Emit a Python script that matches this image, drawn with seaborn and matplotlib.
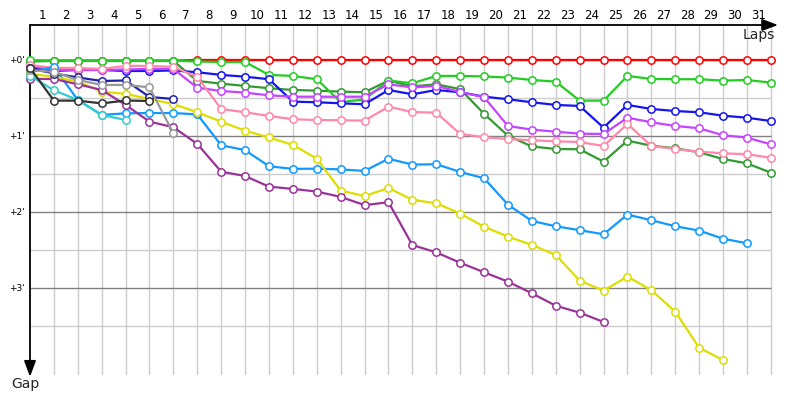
import matplotlib
matplotlib.use("Agg")
import matplotlib.pyplot as plt
import seaborn as sns
import pandas as pd

# ---- data (gap to leader in seconds, one value per lap starting at lap 0) ----
lap_labels = [str(i) for i in range(1, 32)]
gap_ticks = [0, 60, 120, 180]
gap_tick_labels = ["+0'", "+1'", "+2'", "+3'"]

red = [0.6, 0.6, 0.6, 0.6, 0.6, 0.6, 0.6, 0.0, 0.0, 0.0, 0.0, 0.0, 0.0, 0.0, 0.0, 0.0,
       0.0, 0.0, 0.0, 0.0, 0.0, 0.0, 0.0, 0.0, 0.0, 0.0, 0.0, 0.0, 0.0, 0.0, 0.0, 0.0]
lime = [0.4, 0.6, 0.6, 0.6, 0.6, 0.6, 0.6, 1.2, 1.6, 1.6, 11.8, 12.6, 15.2, 33.2, 31.2, 16.3,
        18.4, 12.6, 12.6, 13.0, 13.9, 15.8, 17.1, 32.1, 32.1, 12.6, 15.0, 15.2, 15.2, 16.3, 15.8, 17.9]
darkgreen = [1.2, 0.8, 0.8, 0.8, 0.8, 0.8, 0.8, 16.6, 18.7, 20.5, 22.3, 23.7, 24.2, 25.0, 25.5, 16.3,
             20.9, 19.2, 23.0, 42.5, 59.8, 68.3, 70.3, 70.5, 80.3, 63.7, 67.7, 69.7, 72.9, 78.2, 81.6, 89.0]
blue = [5.5, 8.7, 7.9, 7.9, 8.7, 8.7, 8.3, 9.7, 11.8, 13.2, 15.2, 32.9, 33.4, 34.2, 35.0, 23.7,
        27.1, 23.7, 25.5, 29.0, 31.0, 33.4, 35.5, 36.3, 53.4, 35.5, 38.7, 40.3, 41.3, 44.0, 45.6, 48.2]
violet = [4.7, 7.9, 7.9, 7.9, 7.5, 7.1, 7.1, 21.9, 24.5, 25.8, 27.9, 29.0, 29.0, 29.0, 29.0, 19.2,
          21.7, 20.5, 25.3, 29.4, 52.1, 55.0, 56.6, 58.2, 58.4, 45.6, 49.2, 52.1, 53.9, 59.4, 61.3, 66.6]
pink = [3.9, 6.3, 6.3, 7.1, 4.7, 4.7, 5.5, 13.4, 38.7, 41.3, 44.2, 46.8, 47.4, 47.6, 47.9, 36.9,
        41.1, 41.6, 58.4, 61.0, 62.4, 63.4, 64.2, 64.8, 67.9, 50.5, 67.9, 70.3, 72.4, 73.7, 74.4, 77.2]
skyblue = [9.5, 5.5, 31.6, 43.4, 42.1, 41.9, 41.9, 43.0, 67.3, 71.2, 83.9, 86.0, 85.8, 86.4, 87.6, 78.0,
           82.6, 82.3, 88.4, 93.4, 114.2, 127.1, 131.3, 134.4, 137.6, 122.1, 126.5, 131.3, 134.7, 141.1, 144.7]
yellow = [11.1, 13.2, 17.1, 25.0, 26.8, 30.8, 34.8, 41.3, 48.7, 55.8, 61.2, 67.1, 77.9, 103.1, 107.4, 101.1,
          110.4, 113.1, 121.3, 131.6, 139.5, 146.0, 153.9, 174.2, 182.1, 171.0, 181.8, 198.7, 227.1, 237.0]
purple = [15.0, 15.0, 19.2, 23.7, 35.5, 48.7, 53.1, 66.3, 88.2, 91.6, 100.0, 101.8, 103.9, 108.1, 114.6, 112.3,
          146.1, 151.9, 160.1, 167.6, 175.0, 184.2, 194.0, 199.5, 206.8]
navy = [6.6, 10.7, 13.8, 16.6, 16.2, 29.2, 30.8]
cyan = [12.4, 23.9, 31.6, 43.4, 47.4]
gray = [7.9, 9.5, 15.8, 19.7, 19.7, 21.6, 58.0]
black = [6.3, 32.1, 32.1, 34.3, 32.0, 32.4]

series = [
    ("#ff0000", red),
    ("#339933", darkgreen),
    ("#22cc22", lime),
    ("#1414ee", blue),
    ("#c444ff", violet),
    ("#ff88aa", pink),
    ("#1199ff", skyblue),
    ("#dddd00", yellow),
    ("#993399", purple),
    ("#2020a8", navy),
    ("#33cccc", cyan),
    ("#999999", gray),
    ("#333333", black),
]

sns.set_theme(style="white")
plt.rcParams['font.family'] = ['DejaVu Sans']

fig = plt.figure(figsize=(8, 4), dpi=100)
ax = fig.add_axes([30 / 800, 25 / 400, 748 / 800, 350 / 400])

for i, (color, vals) in enumerate(series):
    df = pd.DataFrame({"lap": list(range(len(vals))), "gap": vals})
    sns.lineplot(data=df, x="lap", y="gap", ax=ax, color=color, linewidth=1.6,
                 marker="o", markersize=5.3, markerfacecolor="white",
                 markeredgecolor=color, markeredgewidth=1.1,
                 errorbar=None, zorder=3 + i * 0.01, clip_on=False)

ax.set_xlim(0, 31.3)
ax.set_ylim(248.7, -27.6)

# lap labels on top, centred in each lap column
ax.xaxis.tick_top()
ax.set_xticks([k - 0.5 for k in range(1, 32)])
ax.set_xticklabels(lap_labels, fontsize=8.5, color="black")
ax.set_xticks(list(range(1, 32)), minor=True)
ax.tick_params(axis="x", which="both", length=0, pad=2)
ax.grid(axis="x", which="minor", color="#cccccc", linewidth=1)
ax.grid(axis="x", which="major", visible=False)
ax.grid(axis="y", visible=False)

ax.set_yticks(gap_ticks)
ax.set_yticklabels(gap_tick_labels, fontsize=6.5, color="black")
ax.tick_params(axis="y", length=0, pad=4)

ax.hlines([30, 90, 150, 210], 0, 31, color="#cccccc", linewidth=1, zorder=1)
ax.hlines([0, 60, 120, 180], 0, 31, color="#808080", linewidth=1, zorder=1.5)
ax.set_axisbelow(True)

ax.set_xlabel("")
ax.set_ylabel("")
for s in ax.spines.values():
    s.set_visible(False)

arrow = dict(arrowstyle="-|>,head_length=0.8,head_width=0.3", color="black",
             lw=1.3, shrinkA=0, shrinkB=0)
ax.annotate("", xy=(1.0, 1.0), xytext=(0.0, 1.0), xycoords="axes fraction",
            arrowprops=arrow, annotation_clip=False)
ax.annotate("", xy=(0.0, -0.005), xytext=(0.0, 1.0), xycoords="axes fraction",
            arrowprops=arrow, annotation_clip=False)

fig.text(775 / 800, 1 - 28 / 400, "Laps", ha="right", va="top", fontsize=10)
fig.text(11 / 800, 1 - 377 / 400, "Gap", ha="left", va="top", fontsize=10)

fig.savefig("out.png", dpi=100)
